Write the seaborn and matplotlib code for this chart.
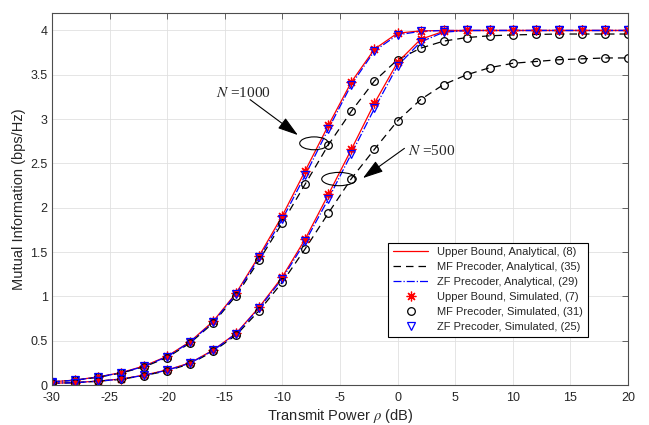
# Mutual information vs transmit power for upper bound / MF / ZF precoders
import matplotlib
matplotlib.use("Agg")
import matplotlib.pyplot as plt
import seaborn as sns
from matplotlib.patches import Ellipse

# transmit power grid (dB)
power_db = list(range(-30, 21, 2))

# N = 1000
ub_1000 = [0.037, 0.056, 0.092, 0.14, 0.215, 0.325, 0.49, 0.72, 1.04, 1.46, 1.91, 2.42, 2.93,
           3.42, 3.79, 3.97, 3.995, 4.0, 4.0, 4.0, 4.0, 4.0, 4.0, 4.0, 4.0, 4.0]
mf_1000 = [0.036, 0.054, 0.088, 0.135, 0.205, 0.31, 0.475, 0.70, 1.01, 1.41, 1.83, 2.27, 2.71,
           3.09, 3.43, 3.67, 3.80, 3.88, 3.92, 3.94, 3.95, 3.955, 3.96, 3.96, 3.96, 3.96]
zf_1000 = [0.036, 0.055, 0.09, 0.138, 0.21, 0.32, 0.485, 0.71, 1.03, 1.44, 1.87, 2.37, 2.89,
           3.39, 3.77, 3.95, 3.99, 4.0, 4.0, 4.0, 4.0, 4.0, 4.0, 4.0, 4.0, 4.0]

# N = 500
ub_500 = [0.02, 0.028, 0.045, 0.068, 0.112, 0.17, 0.25, 0.395, 0.585, 0.88, 1.22, 1.65, 2.15,
          2.66, 3.18, 3.64, 3.90, 3.99, 4.0, 4.0, 4.0, 4.0, 4.0, 4.0, 4.0, 4.0]
mf_500 = [0.019, 0.027, 0.043, 0.065, 0.107, 0.16, 0.24, 0.38, 0.565, 0.84, 1.16, 1.54, 1.94,
          2.33, 2.66, 2.98, 3.22, 3.39, 3.50, 3.58, 3.63, 3.65, 3.67, 3.68, 3.69, 3.69]
zf_500 = [0.02, 0.027, 0.044, 0.067, 0.11, 0.167, 0.247, 0.39, 0.58, 0.87, 1.20, 1.62, 2.10,
          2.61, 3.12, 3.60, 3.87, 3.98, 4.0, 4.0, 4.0, 4.0, 4.0, 4.0, 4.0, 4.0]

x_ticks = [-30, -25, -20, -15, -10, -5, 0, 5, 10, 15, 20]
y_ticks = [0, 0.5, 1, 1.5, 2, 2.5, 3, 3.5, 4]
y_tick_labels = ['0', '0.5', '1', '1.5', '2', '2.5', '3', '3.5', '4']

labels_analytical = ['Upper Bound, Analytical, (8)', 'MF Precoder, Analytical, (35)',
                     'ZF Precoder, Analytical, (29)']
labels_simulated = ['Upper Bound, Simulated, (7)', 'MF Precoder, Simulated, (31)',
                    'ZF Precoder, Simulated, (25)']

sns.set_style("whitegrid")
plt.rcParams['font.family'] = ['Liberation Sans', 'DejaVu Sans']
plt.rcParams['mathtext.fontset'] = 'stix'

fig = plt.figure(figsize=(6.49, 4.25), dpi=100)
ax = fig.add_axes([0.080, 0.094, 0.8875, 0.876])

line_styles = [('red', '-'), ('black', (0, (6, 4))), ('blue', '-.')]
marker_styles = [('red', (8, 2, 0), 7), ('black', 'o', 5.5), ('blue', 'v', 6)]

# analytical curves
for curves, show in [((ub_1000, mf_1000, zf_1000), True),
                     ((ub_500, mf_500, zf_500), False)]:
    for k, y in enumerate(curves):
        col, ls = line_styles[k]
        sns.lineplot(x=power_db, y=y, color=col, linestyle=ls, lw=0.9, ax=ax,
                     label=labels_analytical[k] if show else None, legend=False)

# simulated points
for curves, show in [((ub_1000, mf_1000, zf_1000), True),
                     ((ub_500, mf_500, zf_500), False)]:
    for k, y in enumerate(curves):
        col, mk, ms = marker_styles[k]
        sns.lineplot(x=power_db, y=y, linestyle='none', marker=mk, ms=ms, mec=col,
                     mfc='none', mew=0.9, color=col, ax=ax,
                     label=labels_simulated[k] if show else None, legend=False)

# annotations
ax.add_patch(Ellipse((-7.24, 2.727), 2.5, 0.145, fill=False, ec='black', lw=0.8, zorder=5))
ax.add_patch(Ellipse((-5.08, 2.324), 3.0, 0.15, fill=False, ec='black', lw=0.8, zorder=5))
arrow = dict(arrowstyle='-|>,head_length=0.7,head_width=0.22', color='black', lw=0.8,
             mutation_scale=18, shrinkA=0, shrinkB=0)
ax.annotate('', xy=(-8.65, 2.82), xytext=(-12.8, 3.22), arrowprops=arrow)
ax.annotate('', xy=(-3.0, 2.335), xytext=(0.6, 2.67), arrowprops=arrow)
ax.text(-13.4, 3.30, r'$N$ =1000', family='Liberation Serif', fontsize=11,
        ha='center', va='center')
ax.text(2.95, 2.64, r'$N$ =500', family='Liberation Serif', fontsize=11,
        ha='center', va='center')

ax.set_xlim(-30, 20)
ax.set_ylim(0, 4.2)
ax.set_xticks(x_ticks)
ax.set_xticklabels([str(v) for v in x_ticks])
ax.set_yticks(y_ticks)
ax.set_yticklabels(y_tick_labels)
ax.set_xlabel(r'Transmit Power $\rho$ (dB)', fontsize=10.5, color='0.15', labelpad=2)
ax.set_ylabel('Mutual Information (bps/Hz)', fontsize=10.5, color='0.15', labelpad=3)
ax.grid(True, color='0.88', lw=0.6)
ax.tick_params(direction='in', top=True, right=True, length=4, width=0.6,
               color='0.3', labelsize=9, labelcolor='0.15', pad=3)
ax.tick_params(axis='x', pad=5)
for sp in ax.spines.values():
    sp.set_color('0.3')
    sp.set_linewidth(0.8)

leg = ax.legend(loc='lower right', bbox_to_anchor=(0.93, 0.13), borderaxespad=0,
                fontsize=8, fancybox=False, framealpha=1, edgecolor='black',
                handlelength=3.2, labelspacing=0.45, borderpad=0.4)
leg.get_frame().set_linewidth(0.8)

fig.savefig('out.png', dpi=100)
